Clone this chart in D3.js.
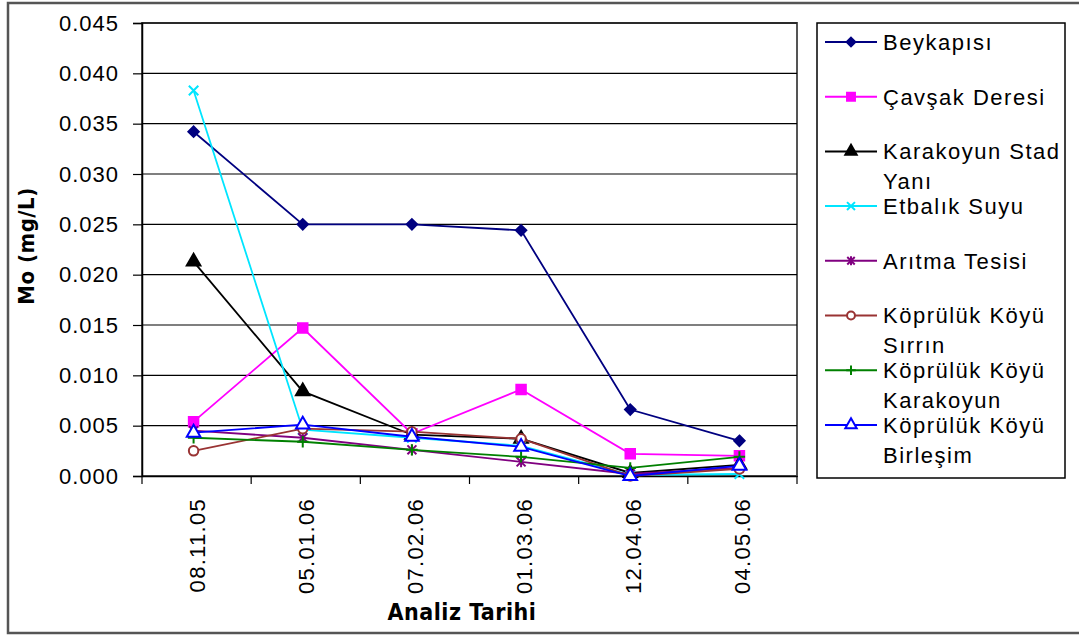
<!DOCTYPE html>
<html>
<head>
<meta charset="utf-8">
<script src="https://cdn.jsdelivr.net/npm/d3@7"></script>
<style>
  body { margin: 0; background: #fff; }
  svg { display: block; }
</style>
</head>
<body>
<svg id="chart" width="1079" height="636"></svg>
<script>
// Analysis dates (categories)
const dates = ["08.11.05", "05.01.06", "07.02.06", "01.03.06", "12.04.06", "04.05.06"];

// Mo (mg/L) per station
const beykapisi   = [0.0342, 0.0250, 0.0250, 0.0244, 0.0066, 0.0035];
const cavsak      = [0.0054, 0.0147, 0.0042, 0.0086, 0.0022, 0.0020];
const karakoyunSY = [0.0213, 0.0084, 0.0041, 0.0037, 0.0003, 0.0011];
const etbalik     = [0.0383, 0.0046, 0.0038, 0.0030, 0.0001, 0.0002];
const aritma      = [0.0045, 0.0038, 0.0026, 0.0014, 0.0002, 0.0008];
const sirrin      = [0.0025, 0.0047, 0.0044, 0.0037, 0.0000, 0.0007];
const kkKarakoyun = [0.0038, 0.0034, 0.0026, 0.0019, 0.0008, 0.0019];
const birlesim    = [0.0043, 0.0051, 0.0039, 0.0029, 0.0000, 0.0010];

const legendLabels = [
    ["Beykapısı"],
    ["Çavşak Deresi"],
    ["Karakoyun Stad", "Yanı"],
    ["Etbalık Suyu"],
    ["Arıtma Tesisi"],
    ["Köprülük Köyü", "Sırrın"],
    ["Köprülük Köyü", "Karakoyun"],
    ["Köprülük Köyü", "Birleşim"]
];

const yTicks = d3.range(0, 0.0451, 0.005);

// Custom markers (square diamond, x, asterisk, plus)
const symDiamond = { draw(ctx, size) { const r = Math.sqrt(size) / 2 * 1.3;
    ctx.moveTo(0, -r); ctx.lineTo(r, 0); ctx.lineTo(0, r); ctx.lineTo(-r, 0); ctx.closePath(); } };
const symX = { draw(ctx, size) { const r = Math.sqrt(size) / 2;
    ctx.moveTo(-r, -r); ctx.lineTo(r, r); ctx.moveTo(r, -r); ctx.lineTo(-r, r); } };
const symStar = { draw(ctx, size) { const r = Math.sqrt(size) / 2;
    ctx.moveTo(-r, -r); ctx.lineTo(r, r); ctx.moveTo(r, -r); ctx.lineTo(-r, r);
    ctx.moveTo(0, -r * 1.2); ctx.lineTo(0, r * 1.2); } };
const symPlus = { draw(ctx, size) { const r = Math.sqrt(size) / 2;
    ctx.moveTo(-r, 0); ctx.lineTo(r, 0); ctx.moveTo(0, -r); ctx.lineTo(0, r); } };

const series = [
    { values: beykapisi,   color: "#000080", sym: symDiamond,        size: 64, fill: true },
    { values: cavsak,      color: "#FF00FF", sym: d3.symbolSquare,   size: 90, fill: true },
    { values: karakoyunSY, color: "#000000", sym: d3.symbolTriangle, size: 80, fill: true },
    { values: etbalik,     color: "#00E5FF", sym: symX,              size: 90, fill: false },
    { values: aritma,      color: "#800080", sym: symStar,           size: 80, fill: false },
    { values: sirrin,      color: "#993333", sym: d3.symbolCircle,   size: 70, fill: false },
    { values: kkKarakoyun, color: "#008000", sym: symPlus,           size: 130, fill: false },
    { values: birlesim,    color: "#0000FF", sym: d3.symbolTriangle, size: 80, fill: false }
];
series.forEach((s, i) => s.label = legendLabels[i]);

const svg = d3.select("#chart");
const font = "'Liberation Sans', Arial, sans-serif";
const narrowBold = "'Liberation Sans Narrow', 'DejaVu Sans Condensed', Arial, sans-serif";

// Outer chart border
svg.append("rect")
    .attr("x", 8).attr("y", 3)
    .attr("width", 1100).attr("height", 630)
    .attr("fill", "#fff")
    .attr("stroke", "#555")
    .attr("stroke-width", 2.5);

const plot = { left: 142, right: 797, top: 23, bottom: 476 };

const x = d3.scaleBand()
    .domain(dates)
    .range([plot.left, plot.right]);

const y = d3.scaleLinear()
    .domain([0, 0.045])
    .range([plot.bottom, plot.top]);

// Plot area frame
svg.append("rect")
    .attr("x", plot.left).attr("y", plot.top)
    .attr("width", plot.right - plot.left)
    .attr("height", plot.bottom - plot.top)
    .attr("fill", "#fff")
    .attr("stroke", "#555")
    .attr("stroke-width", 2);

// Horizontal grid lines
svg.append("g")
    .selectAll("line")
    .data(yTicks.slice(1))
    .enter().append("line")
    .attr("x1", plot.left).attr("x2", plot.right)
    .attr("y1", d => y(d)).attr("y2", d => y(d))
    .attr("stroke", "#000")
    .attr("stroke-width", 1.2);

// Y axis
const yAxis = svg.append("g")
    .attr("transform", `translate(${plot.left},0)`)
    .call(d3.axisLeft(y).tickValues(yTicks).tickSize(9).tickPadding(14).tickFormat(d3.format(".3f")));
yAxis.select(".domain").attr("stroke", "#000").attr("stroke-width", 1.5);
yAxis.selectAll(".tick line").attr("stroke", "#000").attr("stroke-width", 1.2);
yAxis.selectAll("text")
    .attr("font-family", font)
    .attr("font-size", "22px")
    .attr("letter-spacing", "1px")
    .attr("fill", "#000");

// X axis: labels at category centres, ticks between categories
const xAxis = svg.append("g")
    .attr("transform", `translate(0,${plot.bottom})`)
    .call(d3.axisBottom(x).tickSize(0));
xAxis.select(".domain").attr("stroke", "#000").attr("stroke-width", 1.5);
xAxis.selectAll("text")
    .attr("transform", "rotate(-90)")
    .attr("x", -22)
    .attr("y", 0)
    .attr("dy", "0.36em")
    .attr("text-anchor", "end")
    .attr("font-family", font)
    .attr("font-size", "22px")
    .attr("letter-spacing", "1.3px")
    .attr("fill", "#000");

svg.append("g")
    .selectAll("line")
    .data(dates.concat(["end"]))
    .enter().append("line")
    .attr("x1", d => d === "end" ? plot.right : x(d))
    .attr("x2", d => d === "end" ? plot.right : x(d))
    .attr("y1", plot.bottom)
    .attr("y2", plot.bottom + 8)
    .attr("stroke", "#000")
    .attr("stroke-width", 1.2);

// Axis titles
svg.append("text")
    .attr("x", 462).attr("y", 620)
    .attr("text-anchor", "middle")
    .attr("font-family", narrowBold)
    .attr("font-weight", "bold")
    .attr("font-size", "23px")
    .attr("letter-spacing", "0.5px")
    .text("Analiz Tarihi");

svg.append("text")
    .attr("transform", "translate(34,246) rotate(-90)")
    .attr("text-anchor", "middle")
    .attr("font-family", narrowBold)
    .attr("font-weight", "bold")
    .attr("font-size", "22px")
    .attr("letter-spacing", "0.5px")
    .text("Mo (mg/L)");

// Lines and markers
const cx = (d, i) => x(dates[i]) + x.bandwidth() / 2 - 3;
const line = d3.line()
    .x((d, i) => cx(d, i))
    .y(d => y(d));

series.forEach(s => {
    const g = svg.append("g");
    g.append("path")
        .attr("d", line(s.values))
        .attr("fill", "none")
        .attr("stroke", s.color)
        .attr("stroke-width", 1.8);
    g.selectAll("path.marker")
        .data(s.values)
        .enter().append("path")
        .attr("class", "marker")
        .attr("transform", (d, i) => `translate(${cx(d, i)},${y(d)})`)
        .attr("d", d3.symbol().type(s.sym).size(s.size))
        .attr("fill", s.fill ? s.color : "#fff")
        .attr("stroke", s.color)
        .attr("stroke-width", 2);
});

// Legend
const legendBox = { x: 817, y: 23, w: 248, h: 455 };
svg.append("rect")
    .attr("x", legendBox.x).attr("y", legendBox.y)
    .attr("width", legendBox.w).attr("height", legendBox.h)
    .attr("fill", "#fff")
    .attr("stroke", "#000")
    .attr("stroke-width", 1.5);

const legend = svg.append("g")
    .selectAll("g")
    .data(series)
    .enter().append("g")
    .attr("transform", (d, i) => `translate(0,${42 + i * 54.7})`);

legend.append("line")
    .attr("x1", 825).attr("x2", 877)
    .attr("y1", 0).attr("y2", 0)
    .attr("stroke", d => d.color)
    .attr("stroke-width", 2);

legend.append("path")
    .attr("transform", "translate(851,0)")
    .attr("d", d => d3.symbol().type(d.sym).size(d.size * 0.7)())
    .attr("fill", d => d.fill ? d.color : "#fff")
    .attr("stroke", d => d.color)
    .attr("stroke-width", 2);

legend.append("text")
    .attr("font-family", font)
    .attr("font-size", "22px")
    .attr("letter-spacing", "1.5px")
    .attr("fill", "#000")
    .selectAll("tspan")
    .data(d => d.label)
    .enter().append("tspan")
    .attr("x", 883)
    .attr("y", (d, i) => i * 30)
    .attr("dy", "0.36em")
    .text(d => d);
</script>
</body>
</html>
